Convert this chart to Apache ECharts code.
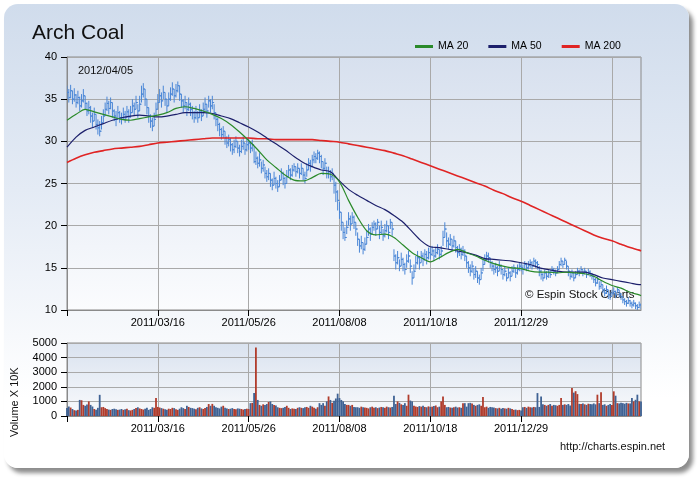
<!DOCTYPE html>
<html>
<head>
<meta charset="utf-8">
<script src="https://cdn.jsdelivr.net/npm/echarts@6/dist/echarts.min.js"></script>
<style>
  html, body { margin: 0; padding: 0; background: #ffffff; }
  #panel { position: absolute; left: 4px; top: 4px; width: 685px; height: 464px; border-radius: 14px;
    background: linear-gradient(to bottom, #d0dcec 0%, #e4ebf5 40%, #ffffff 85%);
    box-shadow: 4px 5px 4px rgba(0,0,0,0.45); }
  #chart { position: absolute; left: 0; top: 0; width: 700px; height: 480px; }
</style>
</head>
<body>
<div id="panel"></div>
<div id="chart"></div>
<script>
// ---- data ----
const tickLabels = ['', '2011/03/16', '2011/05/26', '2011/08/08', '2011/10/18', '2011/12/29', ''];
const tickStep = 50;

const close = [
  35.8, 35.2, 36.0, 35.0, 35.5, 34.6, 35.2, 34.2, 34.8, 35.4,
  34.5, 33.6, 34.0, 33.0, 32.4, 33.2, 32.0, 31.6, 31.2, 32.2,
  33.0, 33.8, 34.5, 33.9, 34.6, 33.6, 33.0, 32.6, 33.4, 32.8,
  32.6, 33.2, 32.8, 33.5, 32.9, 33.4, 34.2, 33.8, 34.6, 33.6,
  34.4, 35.6, 36.2, 35.0, 34.0, 33.0, 32.4, 31.8, 32.6, 33.8,
  34.6, 35.4, 34.8, 35.8, 35.0, 34.2, 35.0, 35.6, 36.2, 35.4,
  36.0, 36.6, 35.6, 34.8, 34.2, 34.6, 33.8, 34.4, 33.8, 33.4,
  32.8, 33.4, 32.8, 33.6, 33.0, 33.8, 34.4, 33.6, 34.8, 34.2,
  34.6, 33.4, 32.6, 32.0, 31.4, 30.8, 31.2, 30.4, 29.8, 30.2,
  29.6, 29.0, 29.4, 30.0, 29.2, 28.8, 29.4, 29.8, 29.0, 29.6,
  29.8, 29.2, 29.6, 27.6, 28.0, 27.4, 27.8, 26.8, 27.2, 26.2,
  25.8, 26.2, 25.4, 24.8, 25.6, 25.0, 24.6, 25.4, 26.2, 25.6,
  25.0, 25.8, 26.6, 26.0, 26.6, 27.0, 26.4, 26.8, 26.2, 26.8,
  26.0, 25.6, 26.6, 27.4, 27.0, 27.8, 28.2, 28.0, 28.6, 28.2,
  27.6, 26.8, 27.4, 26.2, 26.4, 25.8, 26.2, 24.8, 24.0, 23.0,
  21.6, 20.4, 19.2, 18.6, 19.8, 20.8, 20.2, 21.0, 20.4, 19.6,
  18.4, 17.6, 18.0, 17.2, 17.8, 18.6, 19.6, 19.0, 19.8, 20.2,
  19.6, 20.4, 19.2, 19.8, 18.8, 19.4, 20.0, 19.2, 20.4, 19.6,
  16.4, 15.6, 16.2, 15.2, 16.0, 15.4, 14.8, 15.8, 16.4, 15.2,
  13.8, 14.6, 15.6, 16.2, 15.6, 16.4, 16.0, 16.6, 16.2, 16.8,
  16.6, 17.0, 16.4, 16.8, 17.2, 16.6, 17.0, 18.6, 19.6, 18.2,
  17.8, 18.4, 17.6, 18.2, 17.4, 16.8, 17.2, 16.6, 17.0, 16.4,
  15.6, 15.0, 14.6, 15.2, 14.2, 14.6, 13.8, 13.6, 14.4, 15.4,
  16.0, 16.4, 16.2, 15.6, 15.2, 14.8, 15.0, 14.6, 15.2, 14.8,
  14.2, 14.6, 13.8, 14.4, 14.0, 14.6, 15.0, 14.4, 14.8, 15.2,
  15.0, 14.8, 15.4, 15.0, 15.3, 15.6, 15.2, 15.8, 15.6, 15.4,
  14.6, 14.2, 13.8, 14.4, 14.0, 14.4, 14.2, 14.8, 14.6, 14.4,
  14.8, 15.4, 15.8, 15.4, 15.9, 15.2, 14.6, 14.0, 14.4, 13.8,
  14.2, 14.6, 14.4, 14.8, 14.4, 14.6, 14.2, 14.5, 14.3, 14.0,
  13.6, 13.2, 13.6, 12.8, 13.0, 12.4, 12.0, 12.4, 11.8, 11.6,
  12.0, 12.2, 11.8, 12.4, 11.9, 11.6, 11.2, 11.0, 10.8, 11.1,
  10.8, 10.6, 10.8, 10.5, 10.3, 10.6, 10.4
];
const high = [
  36.6, 36.2, 36.7, 36.0, 36.3, 35.6, 36.0, 35.3, 35.6, 36.2,
  35.4, 34.6, 34.8, 34.2, 33.4, 34.0, 33.2, 32.6, 32.4, 33.0,
  33.8, 34.6, 35.3, 34.8, 35.2, 34.6, 33.8, 33.6, 34.2, 33.6,
  33.4, 34.0, 33.6, 34.2, 33.8, 34.2, 35.0, 34.6, 35.4, 34.4,
  35.4, 36.6, 36.9, 36.2, 35.0, 34.0, 33.2, 32.8, 33.4, 34.6,
  35.6, 36.2, 35.8, 36.6, 35.8, 35.0, 35.8, 36.4, 37.0, 36.2,
  36.8, 37.1, 36.6, 35.6, 35.0, 35.4, 34.6, 35.2, 34.6, 34.2,
  33.6, 34.2, 33.6, 34.4, 33.8, 34.6, 35.2, 34.4, 35.4, 35.0,
  35.4, 34.4, 33.4, 32.8, 32.2, 31.6, 31.8, 31.2, 30.6, 30.8,
  30.4, 29.8, 30.2, 30.6, 30.0, 29.6, 30.2, 30.6, 29.8, 30.4,
  30.4, 30.0, 30.2, 29.4, 28.8, 28.2, 28.6, 27.6, 27.8, 27.0,
  26.6, 26.8, 26.2, 25.6, 26.4, 25.8, 25.4, 26.0, 26.8, 26.4,
  25.8, 26.6, 27.2, 26.8, 27.2, 27.4, 27.0, 27.4, 26.8, 27.4,
  26.8, 26.4, 27.4, 28.0, 27.8, 28.4, 28.8, 28.6, 29.0, 28.8,
  28.4, 27.6, 28.0, 27.0, 27.0, 26.6, 26.8, 25.8, 25.2, 24.2,
  22.8, 21.6, 20.4, 19.8, 20.6, 21.6, 21.2, 21.6, 21.2, 20.4,
  19.2, 18.4, 18.8, 18.0, 18.6, 19.4, 20.2, 19.8, 20.4, 20.6,
  20.4, 20.8, 20.0, 20.6, 19.6, 20.2, 20.6, 20.0, 20.8, 20.4,
  17.2, 16.6, 17.0, 16.0, 16.8, 16.2, 15.6, 16.6, 17.0, 16.0,
  14.6, 15.4, 16.4, 17.0, 16.4, 17.0, 16.8, 17.2, 17.0, 17.4,
  17.4, 17.6, 17.2, 17.4, 17.8, 17.2, 17.6, 19.4, 20.4, 19.2,
  18.6, 19.0, 18.4, 18.8, 18.2, 17.6, 17.8, 17.4, 17.6, 17.2,
  16.4, 15.8, 15.4, 15.8, 15.0, 15.2, 14.6, 14.2, 15.0, 16.0,
  16.6, 16.9, 16.8, 16.2, 15.8, 15.4, 15.6, 15.2, 15.8, 15.4,
  14.8, 15.2, 14.4, 15.0, 14.6, 15.2, 15.4, 15.0, 15.4, 15.6,
  15.6, 15.4, 15.8, 15.6, 15.8, 16.0, 15.8, 16.2, 16.0, 15.8,
  15.2, 14.8, 14.4, 14.8, 14.6, 14.8, 14.8, 15.2, 15.0, 14.8,
  15.2, 15.8, 16.2, 15.8, 16.2, 15.8, 15.2, 14.6, 14.8, 14.4,
  14.6, 15.0, 14.8, 15.2, 14.8, 15.0, 14.6, 14.9, 14.7, 14.4,
  14.1, 13.8, 14.0, 13.4, 13.5, 13.0, 12.6, 12.9, 12.4, 12.1,
  12.4, 12.7, 12.3, 12.7, 12.4, 12.0, 11.6, 11.4, 11.2, 11.5,
  11.2, 11.0, 11.2, 10.9, 10.7, 11.0, 10.8
];
const low = [
  35.0, 34.6, 35.1, 34.4, 34.7, 34.0, 34.4, 33.6, 34.0, 34.6,
  33.8, 33.0, 33.2, 32.2, 31.6, 32.4, 31.4, 30.8, 30.6, 31.4,
  32.2, 33.0, 33.6, 33.2, 33.8, 32.8, 32.4, 31.8, 32.6, 32.2,
  32.0, 32.6, 32.2, 32.8, 32.2, 32.8, 33.4, 33.0, 33.8, 32.8,
  33.6, 34.6, 35.2, 34.2, 33.2, 32.2, 31.6, 31.2, 31.8, 33.0,
  33.8, 34.6, 34.0, 35.0, 34.2, 33.4, 34.2, 34.8, 35.4, 34.6,
  35.2, 35.8, 34.8, 34.0, 33.4, 33.8, 33.0, 33.6, 33.0, 32.6,
  32.2, 32.6, 32.2, 32.8, 32.4, 33.0, 33.6, 32.8, 34.0, 33.4,
  33.8, 32.6, 31.8, 31.2, 30.6, 30.2, 30.4, 29.6, 29.2, 29.4,
  28.8, 28.4, 28.6, 29.2, 28.6, 28.2, 28.6, 29.0, 28.4, 28.8,
  29.0, 28.6, 28.8, 27.4, 27.2, 26.8, 27.0, 26.2, 26.4, 25.6,
  25.2, 25.4, 24.6, 24.2, 24.8, 24.4, 24.0, 24.6, 25.4, 24.8,
  24.4, 25.0, 25.8, 25.4, 25.8, 26.4, 25.8, 26.2, 25.6, 26.0,
  25.4, 25.0, 25.8, 26.6, 26.4, 27.0, 27.4, 27.4, 27.8, 27.4,
  26.8, 26.0, 26.6, 25.6, 25.6, 25.2, 25.4, 23.8, 22.8, 21.8,
  20.8, 19.4, 18.4, 18.2, 19.0, 20.0, 19.4, 20.2, 19.6, 18.8,
  17.6, 16.8, 17.2, 16.6, 17.0, 17.8, 18.8, 18.2, 19.0, 19.4,
  18.8, 19.6, 18.4, 19.0, 18.2, 18.6, 19.2, 18.4, 19.6, 18.8,
  15.8, 14.8, 15.4, 14.6, 15.2, 14.6, 14.2, 15.0, 15.6, 14.4,
  13.0, 13.8, 14.8, 15.4, 14.8, 15.6, 15.2, 15.8, 15.4, 16.0,
  16.0, 16.4, 15.8, 16.2, 16.6, 16.0, 16.4, 17.6, 18.6, 17.4,
  17.2, 17.6, 17.0, 17.4, 16.8, 16.2, 16.4, 16.0, 16.4, 15.8,
  15.0, 14.4, 14.0, 14.4, 13.6, 13.8, 13.2, 13.0, 13.6, 14.6,
  15.4, 15.8, 15.6, 15.0, 14.6, 14.2, 14.4, 14.0, 14.6, 14.2,
  13.6, 14.0, 13.4, 13.8, 13.4, 14.0, 14.4, 13.8, 14.2, 14.6,
  14.6, 14.2, 14.8, 14.6, 14.8, 15.0, 14.8, 15.2, 15.0, 14.8,
  14.0, 13.6, 13.4, 13.8, 13.6, 13.8, 13.8, 14.4, 14.2, 14.0,
  14.4, 14.8, 15.2, 15.0, 15.4, 14.8, 14.0, 13.6, 13.8, 13.4,
  13.8, 14.2, 14.0, 14.4, 14.0, 14.2, 13.8, 14.1, 13.9, 13.6,
  13.2, 12.8, 13.1, 12.4, 12.5, 12.0, 11.6, 11.9, 11.3, 11.2,
  11.6, 11.8, 11.4, 12.0, 11.5, 11.2, 10.8, 10.6, 10.4, 10.7,
  10.4, 10.2, 10.4, 10.1, 10.0, 10.2, 10.1
];
const volume = [
  550, 650, 580, 480, 400, 380, 420, 1100, 1080, 760,
  700, 780, 1000, 760, 650, 480, 420, 560, 1450, 600,
  620, 540, 480, 440, 420, 480, 500, 460, 420, 440,
  480, 420, 460, 500, 400, 380, 420, 480, 540, 600,
  520, 480, 440, 500, 560, 420, 480, 600, 560, 1230,
  620, 580, 540, 500, 460, 420, 500, 480, 560, 540,
  460, 420, 500, 600, 540, 480, 700, 620, 560, 540,
  500, 460, 560, 600, 520, 480, 540, 620, 820, 700,
  830, 700, 600, 560, 520, 640, 700, 560, 520, 480,
  500, 540, 480, 460, 520, 500, 480, 440, 480, 500,
  480, 880, 900, 1570, 4700, 1100, 760, 700, 800, 760,
  820, 960, 1000, 820, 760, 720, 600, 560, 540, 560,
  620, 700, 560, 480, 520, 500, 480, 560, 600, 560,
  540, 600, 620, 560, 700, 640, 560, 500, 600, 880,
  760, 880, 700, 1000, 1340, 1100, 900, 1050, 1200, 1530,
  1230, 1100, 1000, 820, 760, 760, 700, 760, 620, 600,
  600, 560, 640, 600, 580, 560, 520, 600, 640, 560,
  600, 540, 580, 620, 600, 560, 640, 600, 580, 620,
  1390, 820, 1000, 900, 800, 760, 880, 700, 1460, 1060,
  1000, 700, 650, 620, 680, 640, 700, 620, 600, 660,
  620, 640, 680, 720, 600, 640, 1000, 1340, 760, 600,
  620, 580, 560, 600, 640, 580, 600, 560, 880, 880,
  640, 880, 900, 860, 760, 700, 760, 800, 700, 1300,
  600, 640, 560, 620, 600, 580, 540, 520, 560, 500,
  540, 520, 500, 560, 520, 480, 420, 440, 400, 420,
  380, 600, 620, 560, 640, 600, 580, 620, 600, 1570,
  620, 1340, 800, 760, 700, 760, 820, 700, 760, 740,
  700, 760, 1230, 760, 800, 760, 820, 720, 1920, 1600,
  1700, 1500, 830, 820, 860, 800, 760, 840, 820, 800,
  860, 800, 1460, 880, 1620, 760, 800, 700, 760, 820,
  760, 1690, 1390, 880, 860, 900, 880, 840, 900, 860,
  860, 1230, 1000, 1110, 1460, 1000, 1000
];
// moving averages, read every 5 trading days
const maDay = [
  0, 5, 10, 15, 20, 25, 30, 35, 40, 45,
  50, 55, 60, 65, 70, 75, 80, 85, 90, 95,
  100, 105, 110, 115, 120, 125, 130, 135, 140, 145,
  150, 155, 160, 165, 170, 175, 180, 185, 190, 195,
  200, 205, 210, 215, 220, 225, 230, 235, 240, 245,
  250, 255, 260, 265, 270, 275, 280, 285, 290, 295,
  300, 305, 310, 315, 316
];
const ma20 = [
  32.5, 33.2, 33.8, 33.5, 33.2, 32.9, 32.6, 32.5, 32.7, 32.9,
  33.1, 33.4, 33.9, 34.1, 33.9, 33.6, 33.2, 32.7, 32.0, 31.1,
  30.1, 29.0, 27.8, 26.9, 26.0, 25.4, 25.3, 25.7, 26.2, 26.1,
  25.2, 23.0, 21.0, 19.4, 18.9, 19.0, 18.6, 17.7, 16.8, 16.2,
  15.7, 16.2, 16.8, 17.2, 16.8, 16.4, 15.9, 15.5, 15.2, 15.0,
  14.9, 14.6, 14.5, 14.5, 14.4, 14.5, 14.4, 14.3, 14.0, 13.4,
  12.9, 12.6, 12.1, 11.8, 11.7
];
const ma50 = [
  29.3, 30.5, 31.3, 31.7, 32.1, 32.5, 32.8, 33.0, 33.1, 33.0,
  32.9, 33.0, 33.2, 33.4, 33.4, 33.4, 33.3, 33.0, 32.7, 32.2,
  31.7, 31.1, 30.4, 29.7, 29.0, 28.2, 27.5, 27.0, 26.6, 26.4,
  25.3, 24.3, 23.6, 23.0, 22.4, 21.9, 21.2, 20.4, 19.3, 18.2,
  17.5, 17.4, 17.2, 17.0, 16.8, 16.5, 16.1, 16.0, 15.9, 15.8,
  15.6, 15.4, 15.0, 14.8, 14.6, 14.5, 14.5, 14.5, 14.2, 13.8,
  13.6, 13.4, 13.2, 13.0, 13.0
];
const ma200 = [
  27.5, 28.0, 28.4, 28.7, 28.9, 29.1, 29.2, 29.3, 29.4, 29.6,
  29.8, 29.9, 30.0, 30.1, 30.2, 30.3, 30.4, 30.4, 30.4, 30.4,
  30.4, 30.3, 30.3, 30.2, 30.2, 30.2, 30.2, 30.2, 30.1, 30.0,
  29.9, 29.7, 29.5, 29.3, 29.1, 28.9, 28.6, 28.3, 27.9, 27.5,
  27.1, 26.7, 26.3, 25.9, 25.5, 25.1, 24.7, 24.2, 23.8, 23.3,
  22.9, 22.4, 21.9, 21.4, 20.9, 20.4, 19.9, 19.4, 18.9, 18.5,
  18.2, 17.8, 17.4, 17.1, 17.0
];

// ---- build chart ----
const N = close.length;
const cats = [];
for (let i = 0; i < N; i++) cats.push(String(i));
const ohlc = [];
for (let i = 0; i < N; i++) ohlc.push([i, high[i], low[i], close[i], i > 0 ? close[i - 1] : close[i]]);
const RED = '#b03c2c', BLUE = '#3f6294';
const volData = volume.map((v, i) => ({
  value: v,
  itemStyle: { color: (i > 0 && close[i] > close[i - 1]) ? RED : BLUE }
}));
const pair = arr => maDay.map((d, k) => [d, arr[k]]);

const FONT = '"Liberation Sans", Arial, sans-serif';
const gridBg = (top, bottom) => ({ type: 'linear', x: 0, y: 0, x2: 0, y2: 1,
  colorStops: [{ offset: 0, color: top }, { offset: 1, color: bottom }] });

const xCommon = (gi, showLabel) => ({
  type: 'category', gridIndex: gi, data: cats, boundaryGap: false,
  axisLine: { show: true, lineStyle: { color: '#8a8a8a' } },
  axisTick: { show: true, interval: tickStep - 1, length: 6, lineStyle: { color: '#000' } },
  axisLabel: { show: showLabel, interval: tickStep - 1, showMaxLabel: false, margin: 7,
    fontFamily: FONT, fontSize: 11, color: '#000',
    formatter: (v, idx) => tickLabels[Math.round(idx / tickStep)] || '' },
  splitLine: { show: true, interval: tickStep - 1, lineStyle: { color: '#a9a9a9', width: 1 } }
});

const chart = echarts.init(document.getElementById('chart'), null, { renderer: 'canvas' });
chart.setOption({
  animation: false,
  backgroundColor: 'transparent',
  grid: [
    { left: 67, top: 57, width: 574, height: 253, show: true, borderColor: '#8a8a8a', borderWidth: 1,
      backgroundColor: gridBg('#d7e0ee', '#fbfcfe') },
    { left: 67, top: 343, width: 574, height: 73, show: true, borderColor: '#8a8a8a', borderWidth: 1,
      backgroundColor: gridBg('#d9e2ef', '#f9fafc') }
  ],
  legend: {
    left: 410, top: 36, itemWidth: 18, itemHeight: 3, itemGap: 20, icon: 'rect',
    textStyle: { fontFamily: FONT, fontSize: 10.5, color: '#000' },
    data: ['MA 20', 'MA 50', 'MA 200']
  },
  xAxis: [xCommon(0, true), xCommon(1, true)],
  yAxis: [
    { type: 'value', gridIndex: 0, min: 10, max: 40, interval: 5,
      axisLine: { show: true, lineStyle: { color: '#8a8a8a' } },
      axisTick: { show: true, length: 6, lineStyle: { color: '#000' } },
      axisLabel: { fontFamily: FONT, fontSize: 11, color: '#000', margin: 10 },
      splitLine: { lineStyle: { color: '#a9a9a9' } } },
    { type: 'value', gridIndex: 1, min: 0, max: 5000, interval: 1000,
      axisLine: { show: true, lineStyle: { color: '#8a8a8a' } },
      axisTick: { show: true, length: 6, lineStyle: { color: '#000' } },
      axisLabel: { fontFamily: FONT, fontSize: 11, color: '#000', margin: 10, formatter: v => String(v) },
      splitLine: { lineStyle: { color: '#a9a9a9' } } }
  ],
  series: [
    {
      type: 'custom', name: 'Price', xAxisIndex: 0, yAxisIndex: 0, clip: true,
      encode: { x: 0, y: [1, 2, 3, 4] },
      data: ohlc,
      renderItem: function (params, api) {
        const i = api.value(0);
        const h = api.coord([i, api.value(1)]);
        const l = api.coord([i, api.value(2)]);
        const c = api.coord([i, api.value(3)]);
        const o = api.coord([i, api.value(4)]);
        const st = { stroke: '#4a86d6', lineWidth: 1 };
        return { type: 'group', children: [
          { type: 'line', shape: { x1: h[0], y1: h[1], x2: l[0], y2: l[1] }, style: st },
          { type: 'line', shape: { x1: o[0] - 1.5, y1: o[1], x2: o[0], y2: o[1] }, style: st },
          { type: 'line', shape: { x1: c[0], y1: c[1], x2: c[0] + 1.5, y2: c[1] }, style: st }
        ] };
      }
    },
    { type: 'line', name: 'MA 200', xAxisIndex: 0, yAxisIndex: 0, data: pair(ma200), smooth: 0.3,
      showSymbol: false, lineStyle: { color: '#e02424', width: 1.6 }, itemStyle: { color: '#e02424' } },
    { type: 'line', name: 'MA 50', xAxisIndex: 0, yAxisIndex: 0, data: pair(ma50), smooth: 0.3,
      showSymbol: false, lineStyle: { color: '#1c1f6b', width: 1.2 }, itemStyle: { color: '#1c1f6b' } },
    { type: 'line', name: 'MA 20', xAxisIndex: 0, yAxisIndex: 0, data: pair(ma20), smooth: 0.3,
      showSymbol: false, lineStyle: { color: '#2a8a2a', width: 1.2 }, itemStyle: { color: '#2a8a2a' } },
    { type: 'bar', name: 'Volume', xAxisIndex: 1, yAxisIndex: 1, data: volData,
      barWidth: 1.8, barGap: '0%' }
  ],
  graphic: [
    { type: 'text', left: 32, top: 23, style: { text: 'Arch Coal', font: '21px ' + FONT, fill: '#111' } },
    { type: 'text', left: 78, top: 65, style: { text: '2012/04/05', font: '11px ' + FONT, fill: '#111' } },
    { type: 'text', left: 525, top: 289, style: { text: '\u00A9 Espin Stock Charts', font: '11.5px ' + FONT, fill: '#111' } },
    { type: 'text', left: 560, top: 441, style: { text: 'http://charts.espin.net', font: '11px ' + FONT, fill: '#111' } },
    { type: 'text', x: 9, y: 437, rotation: Math.PI / 2, style: { text: 'Volume X 10K', font: '11px ' + FONT, fill: '#111' } }
  ]
});
</script>
</body>
</html>
